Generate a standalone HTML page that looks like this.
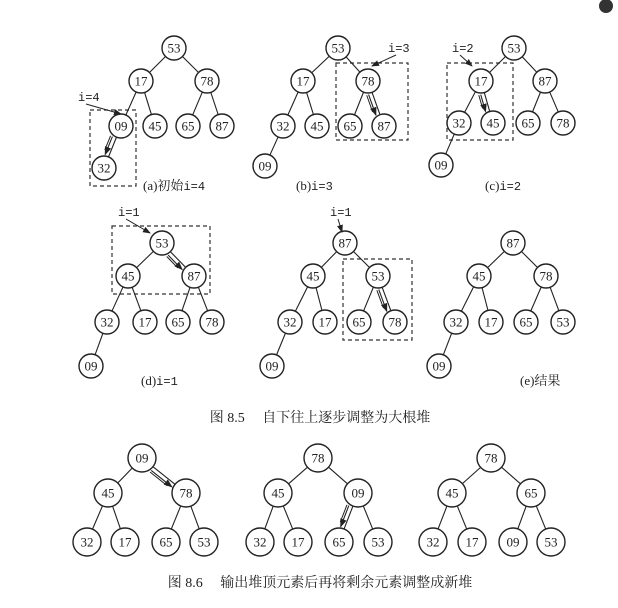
<!DOCTYPE html>
<html><head><meta charset="utf-8"><style>
body{margin:0;background:#fff}
svg text{font-family:"Liberation Serif","Noto Serif CJK SC",serif;fill:#222}
.m{font-family:"Liberation Mono","Noto Sans CJK SC",monospace}
</style></head><body>
<svg id="s" width="618" height="603" viewBox="0 0 618 603">
<defs><marker id="ah" markerWidth="8" markerHeight="8" refX="7" refY="4" orient="auto"><path d="M0,1 L8,4 L0,7 z" fill="#222"/></marker></defs>
<circle cx="606" cy="6" r="7" fill="#333"/>
</svg>
<script>
// node values per tree (heap order), node positions per tree
const trees=[
 {vals:["53","17","78","09","45","65","87","32"],xs:[174,141,207,121,155,188,222,104],ys:[48,81,81,126,126,126,126,168],r:12},
 {vals:["53","17","78","32","45","65","87","09"],xs:[338,303,368,283,317,350,384,265],ys:[48,81,81,126,126,126,126,166],r:12},
 {vals:["53","17","87","32","45","65","78","09"],xs:[514,481,545,459,493,528,563,441],ys:[48,81,81,123,123,123,123,165],r:12},
 {vals:["53","45","87","32","17","65","78","09"],xs:[162,128,194,107,145,178,212,91],ys:[243,276,276,322,322,322,322,366],r:12},
 {vals:["87","45","53","32","17","65","78","09"],xs:[345,313,378,290,325,359,395,272],ys:[243,276,276,322,322,322,322,366],r:12},
 {vals:["87","45","78","32","17","65","53","09"],xs:[513,479,546,456,491,526,563,439],ys:[243,276,276,322,322,322,322,366],r:12},
 {vals:["09","45","78","32","17","65","53"],xs:[142,108,186,87,125,166,204],ys:[458,493,493,542,542,542,542],r:14},
 {vals:["78","45","09","32","17","65","53"],xs:[318,278,358,260,298,339,378],ys:[458,493,493,542,542,542,542],r:14},
 {vals:["78","45","65","32","17","09","53"],xs:[491,452,531,433,472,513,551],ys:[458,493,493,542,542,542,542],r:14}
];
const boxes=[[90,110,46,76],[336,63,72,77],[447,63,66,77],[112,226,98,68],[343,259,69,81]];
const swaps=[[0,3,7],[1,2,6],[2,1,4],[3,0,2],[4,2,6],[6,0,2],[7,2,5]];
const labels=[["i=4",78,101,121,114],["i=3",388,52,372,66],["i=2",452,52,472,66],["i=1",118,216,150,233],["i=1",330,216,342,232]];
const captions=[["(a)初始","i=4",143,190],["(b)","i=3",296,190],["(c)","i=2",485,190],["(d)","i=1",141,385],["(e)结果","",520,385]];
const S=document.getElementById('s'),NS='http://www.w3.org/2000/svg';
function mk(t,a,p){const e=document.createElementNS(NS,t);for(const k in a)e.setAttribute(k,a[k]);(p||S).appendChild(e);return e;}
boxes.forEach((b,i)=>{const e=mk('rect',{x:b[0],y:b[1],width:b[2],height:b[3],fill:'none',stroke:'#333','stroke-dasharray':'4 3','stroke-width':1.2});

});
trees.forEach((t,ti)=>{const g=mk('g',{});


for(let i=1;i<t.vals.length;i++){const p=(i-1)>>1;const dx=t.xs[i]-t.xs[p],dy=t.ys[i]-t.ys[p],d=Math.hypot(dx,dy);
mk('line',{x1:t.xs[p]+dx/d*t.r,y1:t.ys[p]+dy/d*t.r,x2:t.xs[i]-dx/d*t.r,y2:t.ys[i]-dy/d*t.r,stroke:'#222','stroke-width':1.1},g);}
t.vals.forEach((v,i)=>{const n=mk('g',{},g);


mk('circle',{cx:t.xs[i],cy:t.ys[i],r:t.r,fill:'#fff',stroke:'#222','stroke-width':1.4},n);
const tx=mk('text',{x:t.xs[i],y:t.ys[i]+4.5,'text-anchor':'middle','font-size':13},n);tx.textContent=v;});});
swaps.forEach(s=>{const t=trees[s[0]],a=s[1],b=s[2];const dx=t.xs[b]-t.xs[a],dy=t.ys[b]-t.ys[a],d=Math.hypot(dx,dy),ux=dx/d,uy=dy/d,nx=-uy*4,ny=ux*4;
const x1=t.xs[a]+ux*(t.r+1)+nx,y1=t.ys[a]+uy*(t.r+1)+ny,x2=t.xs[b]-ux*(t.r+1)+nx,y2=t.ys[b]-uy*(t.r+1)+ny;
const e=mk('line',{x1,y1,x2,y2,stroke:'#222','stroke-width':1.1,'marker-end':'url(#ah)'});


mk('line',{x1:x1+nx*0.5,y1:y1+ny*0.5,x2:x2+nx*0.5-ux*4,y2:y2+ny*0.5-uy*4,stroke:'#222','stroke-width':1});});
labels.forEach(l=>{const e=mk('text',{x:l[1],y:l[2],'font-size':12,class:'m'});e.textContent=l[0];


mk('line',{x1:l[1]+8,y1:l[2]+3,x2:l[3],y2:l[4],stroke:'#222','stroke-width':1,'marker-end':'url(#ah)'});});
captions.forEach(c=>{const e=mk('text',{x:c[2],y:c[3],'font-size':13});e.textContent=c[0];


if(c[1]){const sp=mk('tspan',{class:'m','font-size':12},e);sp.textContent=c[1];}});
[["图 8.5　 自下往上逐步调整为大根堆",422],["图 8.6　 输出堆顶元素后再将剩余元素调整成新堆",587]].forEach(c=>{const e=mk('text',{x:320,y:c[1],'text-anchor':'middle','font-size':14});e.textContent=c[0];

});
</script>
</body></html>
